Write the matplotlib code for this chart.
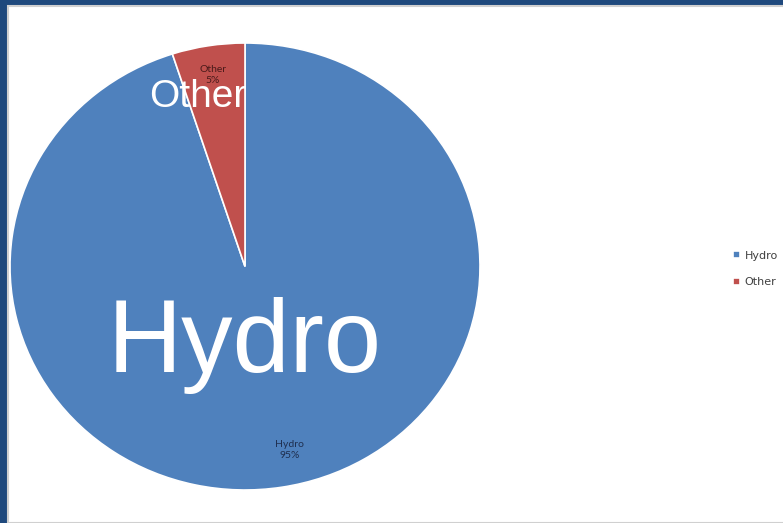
import matplotlib.pyplot as plt
from matplotlib.patches import Rectangle

# ------------------------------------------------------| Data
labels = ['Hydro', 'Other']
shares = [95, 5]
colors = ['#4F81BD', '#C0504D']

# ------------------------------------------------------| Figure
fig = plt.figure(figsize=(7.83, 5.23), dpi=100, facecolor='#1F497D')
# white slide panel inside the blue frame
fig.patches.append(Rectangle((8 / 783, 0), 1, 517 / 523, transform=fig.transFigure,
                             facecolor='white', edgecolor='#D0D0D0', linewidth=1.5, zorder=-5))

# pie is slightly wider than tall in the slide
ax = fig.add_axes([10 / 783, 33 / 523, 470 / 783, 447 / 523])
ax.patch.set_alpha(0)
wedges, _ = ax.pie(shares, colors=colors, startangle=90, counterclock=False,
                   wedgeprops=dict(edgecolor='white', linewidth=1.2))
ax.set_xlim(-1, 1)
ax.set_ylim(-1, 1)
ax.set_aspect('auto')

# small data labels (category + percent)
ax.text(0.19, -0.82, 'Hydro\n95%', ha='center', va='center', fontsize=7.5,
        color='#1F2F4F', linespacing=1.35, family='Lato')
ax.text(-0.136, 0.857, 'Other\n5%', ha='center', va='center', fontsize=7.5,
        color='#4A1A1A', linespacing=1.35, family='Lato')

# big white overlay labels
ax.text(0.0, -0.472, 'Hydro', ha='center', va='baseline', fontsize=74, color='white',
        family='Liberation Sans')
ax.text(-0.202, 0.714, 'Other', ha='center', va='baseline', fontsize=28, color='white',
        family='Liberation Sans')

# legend
leg = fig.legend(wedges, labels, loc='center left', bbox_to_anchor=(723 / 783, 1 - 269 / 523),
                 frameon=False, fontsize=8, handlelength=0.6, handleheight=0.6,
                 handletextpad=0.45, labelspacing=1.5, labelcolor='#404040')

fig.savefig('out.png', dpi=100, facecolor=fig.get_facecolor())
